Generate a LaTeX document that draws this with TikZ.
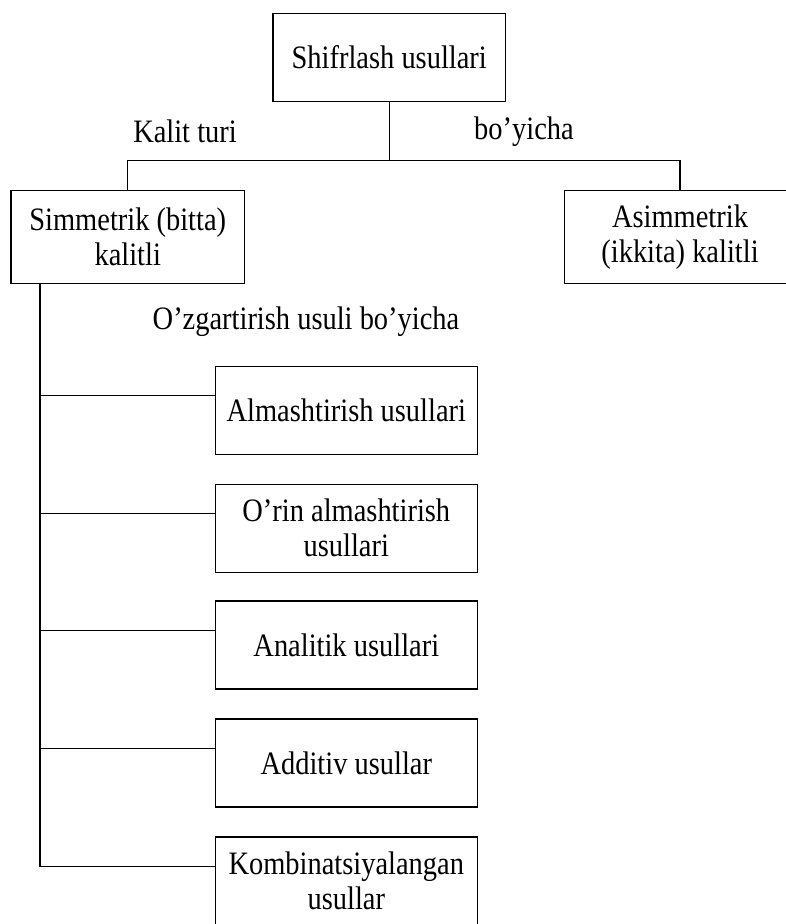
\documentclass[tikz,border=0pt]{standalone}
\usepackage{fontspec}
\setmainfont{Liberation Serif}[FakeStretch=0.87]
\begin{document}
\begin{tikzpicture}[x=1pt,y=-1pt,
  every node/.style={font=\fontsize{32.7}{35}\selectfont},
  box/.style={draw,line width=1.2pt,inner sep=0pt,align=center},
  lbl/.style={inner sep=0pt},
  conn/.style={line width=1.2pt}]
\useasboundingbox (0,0) rectangle (785,924);
\node[box,minimum width=232.5pt,minimum height=88pt] (top) at (389.25,57.3) {Shifrlash usullari};
\node[box,minimum width=233.5pt,minimum height=92.7pt] (left) at (127.75,237) {Simmetrik (bitta)\\kalitli};
\node[box,minimum width=231pt,minimum height=92.7pt] (right) at (680,237) {Asimmetrik\\(ikkita) kalitli};
\node[lbl] (k1) at (185,131.7) {Kalit turi};
\node[lbl] (k2) at (524,131.7) {bo’yicha};
\node[lbl] (k3) at (306,321.7) {O’zgartirish usuli bo’yicha};
\node[box,minimum width=262pt,minimum height=88pt] (b1) at (346.3,410.2) {Almashtirish usullari};
\node[box,minimum width=262pt,minimum height=88pt] (b2) at (346.3,528.2) {O’rin almashtirish\\usullari};
\node[box,minimum width=262pt,minimum height=88pt] (b3) at (346.3,645) {Analitik usullari};
\node[box,minimum width=262pt,minimum height=88pt] (b4) at (346.3,762.9) {Additiv usullar};
\node[box,minimum width=262pt,minimum height=88pt] (b5) at (346.3,881) {Kombinatsiyalangan\\usullar};
\coordinate (j) at (389.25,160.7);
\draw[conn] (top.south) -- (j);
\draw[conn] (left.north) |- (j) -| (right.north);
\coordinate (t0) at (40,283.3);
\foreach \i in {1,...,5}{\coordinate (p\i) at ([yshift=14.8pt]b\i.west);}
\draw[conn] (t0) |- (p5);
\foreach \i in {1,...,4}{\draw[conn] (p\i) -- (p\i -| t0);}
\end{tikzpicture}
\end{document}
